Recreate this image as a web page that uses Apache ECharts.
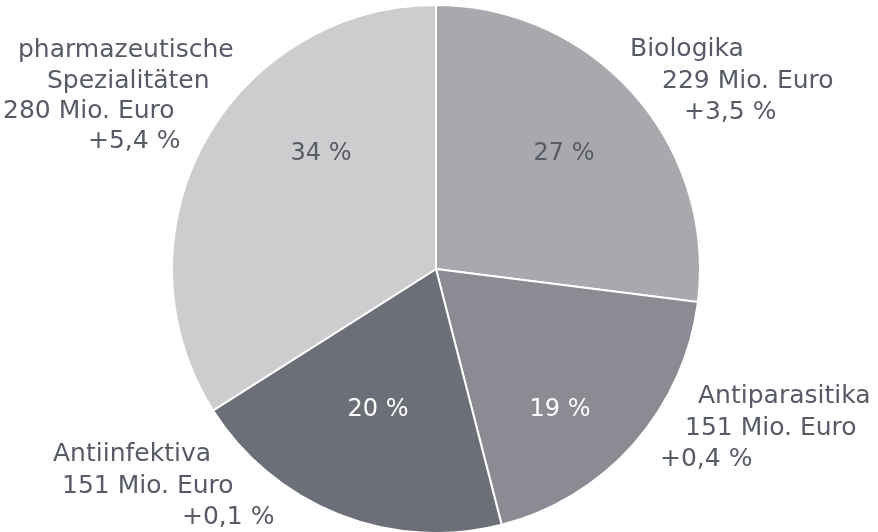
<!DOCTYPE html>
<html>
<head>
<meta charset="utf-8">
<style>
  html, body { margin: 0; padding: 0; background: #fff; }
  #chart { width: 878px; height: 532px; }
</style>
<script src="https://cdn.jsdelivr.net/npm/echarts@6/dist/echarts.min.js"></script>
</head>
<body>
<div id="chart"></div>
<script>
// Daten
const categories = ['Biologika', 'Antiparasitika', 'Antiinfektiva', 'pharmazeutische\nSpezialitäten']
const shares = [27, 19, 20, 34]
const amounts = [229, 151, 151, 280]
const changes = ['+3,5', '+0,4', '+0,1', '+5,4']

const sliceColors = ['#a9a9ad', '#8a8b93', '#6c6f78', '#cdcdcf']
const innerTextColors = ['#565b65', '#ffffff', '#ffffff', '#565b65']
const textColor = '#565b65'
const fontFamily = '"DejaVu Sans", sans-serif'

// Position der Zeilen außerhalb (linke Kante, Mitte der Versalhöhe)
const labelLines = [
  [[630, 47], [662, 79], [684, 110]],
  [[698, 394], [685, 426], [660, 457]],
  [[53, 452], [62, 484], [182, 515]],
  [[18, 48], [47, 79], [3, 109], [88, 139]]
]
// Mitte der Prozentangaben in den Segmenten
const innerLabelPos = [[564, 152], [560, 408], [378, 408], [321, 152]]

const center = [436, 269]
const radius = 264

const chart = echarts.init(document.getElementById('chart'))

const data = categories.map((name, i) => ({
  name,
  value: shares[i],
  itemStyle: { color: sliceColors[i] },
  label: { color: innerTextColors[i] }
}))

const graphics = []
categories.forEach((name, i) => {
  const lines = name.split('\n').concat([amounts[i] + ' Mio. Euro', changes[i] + ' %'])
  lines.forEach((text, j) => {
    const [x, y] = labelLines[i][j]
    graphics.push({
      type: 'text',
      x,
      y: y + 2,
      style: { text, fill: textColor, fontSize: 25, fontFamily, verticalAlign: 'middle', align: 'left' }
    })
  })
})

chart.setOption({
  animation: false,
  graphic: graphics,
  series: [
    {
      type: 'pie',
      center,
      radius,
      startAngle: 90,
      clockwise: true,
      silent: true,
      data,
      label: {
        show: true,
        position: 'inside',
        formatter: p => p.value + ' %',
        fontSize: 24,
        fontFamily
      },
      labelLine: { show: false },
      labelLayout: params => ({
        x: innerLabelPos[params.dataIndex][0],
        y: innerLabelPos[params.dataIndex][1] + 2,
        align: 'center',
        verticalAlign: 'middle'
      }),
      itemStyle: { borderColor: '#ffffff', borderWidth: 2 }
    }
  ]
})
</script>
</body>
</html>
